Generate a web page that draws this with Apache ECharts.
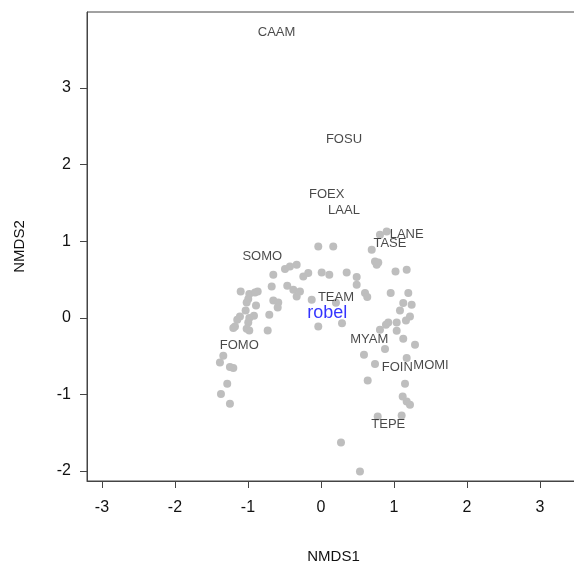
<!DOCTYPE html>
<html>
<head>
<meta charset="utf-8">
<script src="https://cdn.jsdelivr.net/npm/echarts@6/dist/echarts.min.js"></script>
<style>
  html, body { margin: 0; padding: 0; background: #fff; }
  #chart { width: 574px; height: 563px; }
</style>
</head>
<body>
<div id="chart"></div>
<script>
// site scores (grey dots), NMDS1 / NMDS2
const siteX = [
  -0.653, -0.493, -0.425, -0.333, -0.653, -0.675, -0.462, -0.379, -0.333, -1.100,
  -0.982, -0.904, -0.867, -0.996, -1.018, -0.890, -0.585, -0.593, -0.708, -0.730,
  -1.032, -1.110, -1.147, -0.918, -0.982, -0.996, -1.178, -1.201, -1.018, -0.982,
  -1.338, -1.384, -1.247, -1.201, -1.284, -1.370, -1.247, -0.288, -0.174, -0.242,
  0.010, 0.114, 0.352, 0.489, 0.489, -0.037, 0.168, -0.127, -0.037, 0.288,
  0.603, 0.634, 0.955, 1.196, 1.127, 1.242, 1.082, 1.219, 1.164, 1.037,
  0.922, 0.890, 0.808, 1.037, 1.127, 1.288, 0.877, 0.589, 0.740, 1.174,
  1.151, 1.119, 1.174, 1.219, 0.640, 0.777, 1.105, 0.274, 0.534, 0.695,
  0.808, 0.900, 0.740, 0.763, 1.021, 1.174, 0.785, 0.205
]
const siteY = [
  0.226, 0.636, 0.670, 0.692, 0.561, 0.409, 0.418, 0.366, 0.278, 0.343,
  0.309, 0.330, 0.343, 0.244, 0.200, 0.161, 0.200, 0.134, 0.039, -0.166,
  0.095, 0.017, -0.026, 0.026, -0.004, -0.061, -0.114, -0.134, -0.144, -0.166,
  -0.496, -0.584, -0.644, -0.657, -0.862, -0.996, -1.123, 0.343, 0.584, 0.539,
  0.591, 0.561, 0.591, 0.531, 0.431, 0.931, 0.931, 0.235, -0.114, -0.072,
  0.322, 0.270, 0.322, 0.322, 0.192, 0.170, 0.095, 0.017, -0.035, -0.061,
  -0.061, -0.091, -0.157, -0.170, -0.274, -0.352, -0.409, -0.483, -0.604, -0.526,
  -0.862, -1.027, -1.093, -1.136, -0.819, -1.289, -1.275, -1.628, -2.007, 0.888,
  1.084, 1.127, 0.735, 0.692, 0.604, 0.627, 0.722, 0.196
]

// species labels
const speciesNames = ['CAAM', 'FOSU', 'FOEX', 'LAAL', 'LANE', 'TASE', 'SOMO', 'TEAM', 'MYAM', 'FOIN', 'MOMI', 'TEPE', 'FOMO']
const speciesX = [-0.608, 0.315, 0.079, 0.315, 1.174, 0.945, -0.804, 0.205, 0.662, 1.045, 1.507, 0.922, -1.119]
const speciesY = [3.717, 2.324, 1.615, 1.400, 1.084, 0.966, 0.800, 0.270, -0.287, -0.644, -0.627, -1.388, -0.366]

// fitted vector label
const envName = 'robel'
const envX = 0.086
const envY = 0.061

const xTicks = [-3, -2, -1, 0, 1, 2, 3]
const yTicks = [-2, -1, 0, 1, 2, 3]

const FONT = 'Liberation Sans, Arial, sans-serif'
const AXIS_COLOR = '#444'

const chart = echarts.init(document.getElementById('chart'))

function axisBase(ticks) {
  return {
    type: 'value',
    splitLine: { show: false },
    axisLine: { show: true, onZero: false, lineStyle: { color: AXIS_COLOR, width: 1 } },
    axisTick: { show: true, length: 7, customValues: ticks, lineStyle: { color: AXIS_COLOR } },
    axisLabel: {
      customValues: ticks,
      color: '#111',
      fontSize: 16,
      fontFamily: FONT
    },
    nameLocation: 'middle',
    nameTextStyle: { color: '#111', fontSize: 15, fontFamily: FONT }
  }
}

const xAxis = axisBase(xTicks)
xAxis.min = -3.205
xAxis.max = 3.548
xAxis.name = 'NMDS1'
xAxis.nameGap = 68
xAxis.axisLabel.margin = 19

const yAxis = axisBase(yTicks)
yAxis.min = -2.13
yAxis.max = 3.99
yAxis.name = 'NMDS2'
yAxis.nameGap = 60
yAxis.axisLabel.margin = 16

const siteData = siteX.map((x, i) => [x, siteY[i]])
const speciesData = speciesNames.map((n, i) => ({ name: n, value: [speciesX[i], speciesY[i]] }))

chart.setOption({
  animation: false,
  backgroundColor: '#fff',
  grid: {
    left: 87,
    top: 12,
    right: -6,
    bottom: 82,
    outerBoundsMode: 'none',
    containLabel: false,
    show: true,
    borderColor: AXIS_COLOR,
    borderWidth: 1
  },
  xAxis: xAxis,
  yAxis: yAxis,
  series: [
    {
      name: 'sites',
      type: 'scatter',
      symbol: 'circle',
      symbolSize: 8,
      itemStyle: { color: '#bebebe', opacity: 1 },
      data: siteData,
      z: 2
    },
    {
      name: 'species',
      type: 'scatter',
      symbolSize: 0,
      data: speciesData,
      label: {
        show: true,
        position: 'inside',
        formatter: p => p.name,
        color: '#1a1a1a',
        fontSize: 13,
        fontFamily: FONT
      },
      z: 3
    },
    {
      name: 'env',
      type: 'scatter',
      symbolSize: 0,
      data: [{ name: envName, value: [envX, envY] }],
      label: {
        show: true,
        position: 'inside',
        formatter: p => p.name,
        color: '#0000ff',
        fontSize: 18,
        fontFamily: FONT
      },
      z: 4
    }
  ]
})
</script>
</body>
</html>
